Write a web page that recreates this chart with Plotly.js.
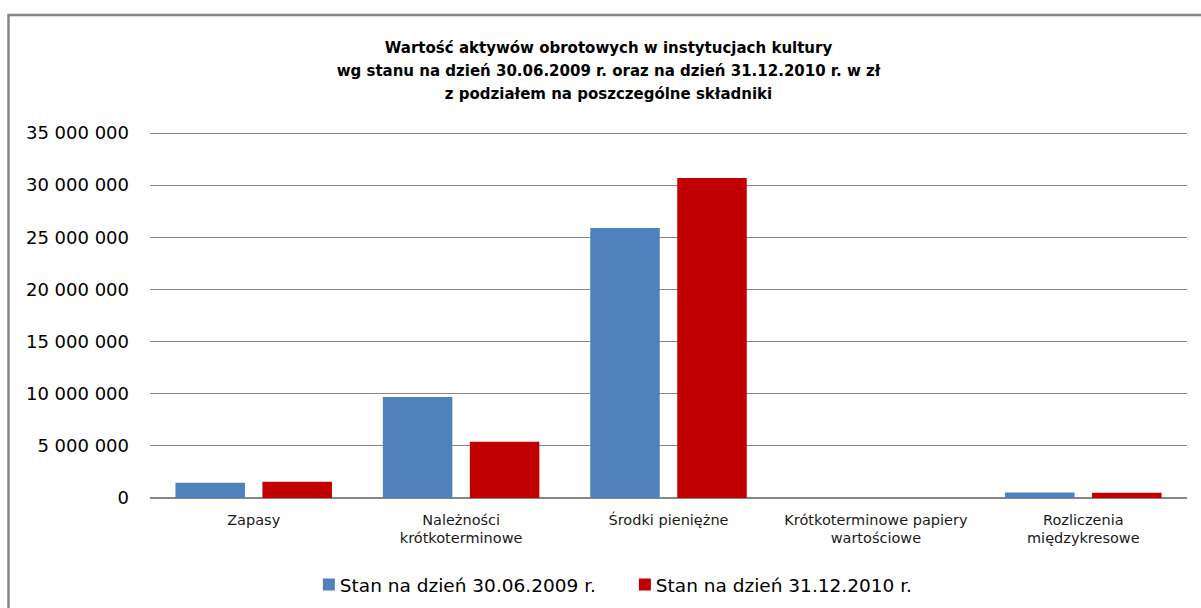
<!DOCTYPE html>
<html>
<head>
<meta charset="utf-8">
<script src="https://cdn.plot.ly/plotly-3.0.1.min.js"></script>
<style>
html, body { margin: 0; padding: 0; background: #fff; }
#chart { width: 1201px; height: 608px; }
/* title line tspans get a larger em so the 1.3em line step equals ~23px */
#chart .gtitle tspan.line { font-size: 17.7px; }
/* put the legend squares closer to their labels, as in the reference */
#chart .legend .legendpoints { transform: translateX(9px); }
</style>
</head>
<body>
<div id="chart"></div>
<script>
const categories = [
  "Zapasy",
  "Należności<br>krótkoterminowe",
  "Środki pieniężne",
  "Krótkoterminowe papiery<br>wartościowe",
  "Rozliczenia<br>międzykresowe"
];
const seriesNames = ["Stan na dzień 30.06.2009 r.", "Stan na dzień 31.12.2010 r."];
const values2009 = [1460000, 9690000, 25900000, 0, 520000];
const values2010 = [1560000, 5390000, 30700000, 0, 510000];
const yTicks = [0, 5000000, 10000000, 15000000, 20000000, 25000000, 30000000, 35000000];
const titleLines = [
  "Wartość aktywów obrotowych w instytucjach kultury",
  "wg stanu na dzień 30.06.2009 r. oraz na dzień 31.12.2010 r. w zł",
  "z podziałem na poszczególne składniki"
];

const traces = [
  { type: "bar", name: seriesNames[0], x: categories, y: values2009, marker: { color: "#4F81BD" }, hoverinfo: "skip" },
  { type: "bar", name: seriesNames[1], x: categories, y: values2010, marker: { color: "#C00000" }, hoverinfo: "skip" }
];

const layout = {
  width: 1201,
  height: 608,
  margin: { l: 150, r: 14, t: 132, b: 110 },
  paper_bgcolor: "#ffffff",
  plot_bgcolor: "#ffffff",
  separators: ", ",
  barmode: "group",
  bargap: 0.161,
  bargroupgap: 0.201,
  title: {
    text: titleLines.map(function (l) { return '<span style="font-size:15px">' + l + '</span>'; }).join("<br>"),
    font: { family: "DejaVu Sans, sans-serif", size: 15, color: "#000000", weight: "bold" },
    x: 0.5067, xanchor: "center", xref: "container",
    y: 1 - 53 / 608, yanchor: "top", yref: "container"
  },
  xaxis: {
    type: "category",
    automargin: false,
    showgrid: false,
    zeroline: false,
    showline: false,
    ticks: "",
    ticklabelstandoff: 11,
    tickfont: { family: "DejaVu Sans, sans-serif", size: 14.5, color: "#1a1a1a" },
    fixedrange: true
  },
  yaxis: {
    automargin: false,
    range: [0, 35100000],
    tickvals: yTicks,
    tickformat: ",d",
    showgrid: true,
    gridcolor: "#868686",
    gridwidth: 1,
    zeroline: true,
    zerolinecolor: "#868686",
    zerolinewidth: 2,
    showline: false,
    ticks: "",
    ticklabelstandoff: 20,
    tickfont: { family: "DejaVu Sans, sans-serif", size: 18, color: "#000000" },
    fixedrange: true
  },
  showlegend: true,
  legend: {
    orientation: "h",
    xref: "container", yref: "container",
    x: 0.5128, xanchor: "center",
    y: 23 / 608, yanchor: "middle",
    entrywidth: 271,
    font: { family: "DejaVu Sans, sans-serif", size: 18.5, color: "#000000" },
    itemclick: false, itemdoubleclick: false
  },
  shapes: [
    {
      type: "rect", xref: "paper", yref: "paper",
      x0: (8.5 - 150) / 1037, x1: (1215 - 150) / 1037,
      y0: (498 - 625) / 366, y1: (498 - 15) / 366,
      line: { color: "#888888", width: 2.5 },
      fillcolor: "rgba(0,0,0,0)",
      layer: "above"
    }
  ]
};

Plotly.newPlot("chart", traces, layout, { displayModeBar: false, staticPlot: true });
</script>
</body>
</html>
